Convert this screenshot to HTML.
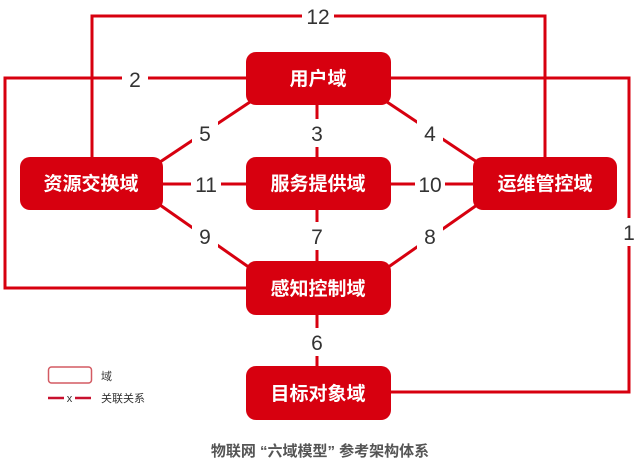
<!DOCTYPE html>
<html><head><meta charset="utf-8"><style>
html,body{margin:0;padding:0;background:#fff;}
svg{display:block;}
.box{fill:#d7000f;}
.bt{fill:#fff;font-family:"Liberation Sans","Noto Sans CJK SC",sans-serif;font-weight:bold;font-size:19px;text-anchor:middle;}
.ln{stroke:#d7000f;stroke-width:3;fill:none;}
.lb{fill:#333;font-family:"Liberation Sans",sans-serif;font-size:21px;text-anchor:middle;}
.lbw{fill:#fff;}
</style></head><body>
<svg width="640" height="469" viewBox="0 0 640 469" xmlns="http://www.w3.org/2000/svg">
<polyline class="ln" points="92,185 92,16 545,16 545,185"/>
<polyline class="ln" points="246,78 5,78 5,288 246,288"/>
<polyline class="ln" points="390,78 629,78 629,392 390,392"/>
<line class="ln" x1="250" y1="102" x2="160" y2="162"/>
<line class="ln" x1="387" y1="102" x2="477" y2="162"/>
<line class="ln" x1="317" y1="105" x2="317" y2="158"/>
<line class="ln" x1="163" y1="184" x2="246" y2="184"/>
<line class="ln" x1="390" y1="184" x2="473" y2="184"/>
<line class="ln" x1="160" y1="205" x2="250" y2="268"/>
<line class="ln" x1="477" y1="205" x2="387" y2="268"/>
<line class="ln" x1="317" y1="210" x2="317" y2="262"/>
<line class="ln" x1="317" y1="314" x2="317" y2="366"/>
<rect class="lbw" x="302" y="4" width="32" height="24"/>
<rect class="lbw" x="122" y="67" width="26" height="24"/>
<rect class="lbw" x="618" y="218" width="22" height="28"/>
<rect class="lbw" x="192" y="119" width="26" height="28"/>
<rect class="lbw" x="417" y="119" width="26" height="28"/>
<rect class="lbw" x="305" y="119" width="24" height="28"/>
<rect class="lbw" x="191" y="172" width="30" height="24"/>
<rect class="lbw" x="415" y="172" width="30" height="24"/>
<rect class="lbw" x="192" y="222" width="26" height="28"/>
<rect class="lbw" x="305" y="222" width="24" height="28"/>
<rect class="lbw" x="417" y="222" width="26" height="28"/>
<rect class="lbw" x="305" y="328" width="24" height="28"/>
<text class="lb" x="318" y="24">12</text>
<text class="lb" x="135" y="87">2</text>
<text class="lb" x="629" y="240">1</text>
<text class="lb" x="205" y="141">5</text>
<text class="lb" x="430" y="141">4</text>
<text class="lb" x="317" y="141">3</text>
<text class="lb" x="206" y="192">11</text>
<text class="lb" x="430" y="192">10</text>
<text class="lb" x="205" y="244">9</text>
<text class="lb" x="317" y="244">7</text>
<text class="lb" x="430" y="244">8</text>
<text class="lb" x="317" y="350">6</text>
<rect class="box" x="246" y="52" width="145" height="53" rx="10"/>
<text class="bt" x="318" y="85">用户域</text>
<rect class="box" x="20" y="157" width="143" height="53" rx="10"/>
<text class="bt" x="91" y="190">资源交换域</text>
<rect class="box" x="246" y="157" width="145" height="53" rx="10"/>
<text class="bt" x="318" y="190">服务提供域</text>
<rect class="box" x="473" y="157" width="144" height="53" rx="10"/>
<text class="bt" x="545" y="190">运维管控域</text>
<rect class="box" x="246" y="261" width="145" height="54" rx="10"/>
<text class="bt" x="318" y="295">感知控制域</text>
<rect class="box" x="246" y="366" width="145" height="54" rx="10"/>
<text class="bt" x="318" y="400">目标对象域</text>
<rect x="48.5" y="367" width="43" height="16" rx="3" fill="#fff" stroke="#d35a62" stroke-width="1.5"/>
<text x="101" y="380" font-family="Liberation Sans,Noto Sans CJK SC,sans-serif" font-size="11" fill="#333">域</text>
<line x1="48" y1="398" x2="64" y2="398" stroke="#c8102e" stroke-width="2.5"/>
<line x1="75" y1="398" x2="91" y2="398" stroke="#c8102e" stroke-width="2.5"/>
<text x="69.5" y="402" font-family="Liberation Sans,sans-serif" font-size="11" fill="#333" text-anchor="middle">x</text>
<text x="101" y="402" font-family="Liberation Sans,Noto Sans CJK SC,sans-serif" font-size="11" fill="#333">关联关系</text>
<text x="320" y="456" font-family="Liberation Sans,Noto Sans CJK SC,sans-serif" font-size="15" font-weight="bold" fill="#555" text-anchor="middle">物联网 “六域模型” 参考架构体系</text>
</svg>
</body></html>
